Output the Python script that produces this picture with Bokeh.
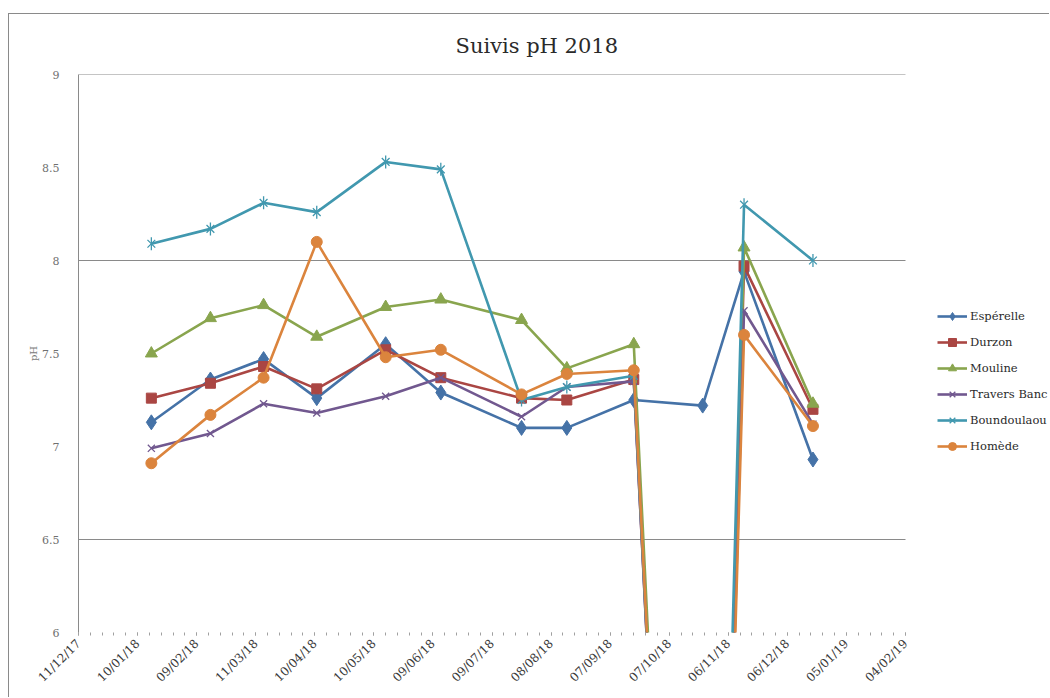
import numpy as np
import pandas as pd
from bokeh.plotting import figure
from bokeh.models import (Range1d, FixedTicker, DatetimeTickFormatter, CustomJSTickFormatter,
                          Legend, LegendItem, ColumnDataSource)
from bokeh.embed import file_html
from bokeh.resources import INLINE

# ---------------- data ----------------
dates = ["2018-01-17", "2018-02-16", "2018-03-15", "2018-04-11", "2018-05-16", "2018-06-13",
         "2018-07-24", "2018-08-16", "2018-09-19", "2018-10-24", "2018-11-14", "2018-12-19"]
esperelle   = [7.13, 7.36, 7.47, 7.26, 7.55, 7.29, 7.10, 7.10, 7.25, 7.22, 7.94, 6.93]
durzon      = [7.26, 7.34, 7.43, 7.31, 7.52, 7.37, 7.26, 7.25, 7.36, 0.0, 7.97, 7.20]
mouline     = [7.50, 7.69, 7.76, 7.59, 7.75, 7.79, 7.68, 7.42, 7.55, 0.0, 8.07, 7.23]
travers     = [6.99, 7.07, 7.23, 7.18, 7.27, 7.37, 7.16, 7.32, 7.35, 0.0, 7.73, 7.12]
boundoulaou = [8.09, 8.17, 8.31, 8.26, 8.53, 8.49, 7.25, 7.32, 7.38, 0.0, 8.30, 8.00]
homede      = [6.91, 7.17, 7.37, 8.10, 7.48, 7.52, 7.28, 7.39, 7.41, 0.0, 7.60, 7.11]

series_names = ["Espérelle", "Durzon", "Mouline", "Travers Banc", "Boundoulaou", "Homède"]
x_start = "2017-12-11"
x_end = "2019-02-04"
major_step_days = 30
minor_step_days = 6
y_ticks = [6, 6.5, 7, 7.5, 8, 8.5, 9]
y_grid = [6.5, 8, 9]

# ---------------- layout constants ----------------
FONT = "DejaVu Serif"
PLOT_W = 827          # pixel width of the dated plot area
FRAME_W = 972         # frame runs to the right edge so the legend sits inside it

xs = pd.to_datetime(dates)
t0 = pd.Timestamp(x_start)
t1 = pd.Timestamp(x_end)
span_days = (t1 - t0).days
t_frame_end = t0 + pd.Timedelta(days=span_days * FRAME_W / PLOT_W)

def ms(t):
    return t.value // 10**6

p = figure(width=69 + FRAME_W, height=684, output_backend="svg", toolbar_location=None,
           x_axis_type="datetime",
           x_range=Range1d(t0, t_frame_end), y_range=Range1d(6, 9),
           min_border_left=69, min_border_right=0, min_border_top=59, min_border_bottom=66)
p.styles = {"margin-top": "13px", "margin-left": "8px",
            "border-top": "1px solid #8a8a8a", "border-left": "1px solid #8a8a8a"}
p.outline_line_color = None
p.background_fill_color = "white"
p.border_fill_color = "white"

p.title.text = "Suivis pH 2018"
p.title.align = "left"
p.title.offset = 377
p.title.text_font = FONT
p.title.text_font_size = "21px"
p.title.text_font_style = "normal"
p.title.text_color = "#2a2a2a"
p.title.text_line_height = 0.8
p.title.standoff = 34

# x axis
major = [ms(t0 + pd.Timedelta(days=d)) for d in range(0, span_days + 1, major_step_days)]
minor = [ms(t0 + pd.Timedelta(days=d)) for d in range(0, span_days + 1, minor_step_days)]
p.xaxis.ticker = FixedTicker(ticks=major, minor_ticks=minor)
fmt = "%d/%m/%y"
p.xaxis.formatter = DatetimeTickFormatter(microseconds=fmt, milliseconds=fmt, seconds=fmt,
                                          minsec=fmt, minutes=fmt, hourmin=fmt, hours=fmt,
                                          days=fmt, months=fmt, years=fmt)
p.xaxis.major_label_orientation = np.pi / 4
p.xaxis.major_label_text_font = FONT
p.xaxis.major_label_text_font_size = "12px"
p.xaxis.major_label_text_color = "#3a3a3a"
p.xaxis.axis_line_color = None
p.xaxis.major_tick_line_color = "#a0a0a0"
p.xaxis.minor_tick_line_color = "#a0a0a0"
p.xaxis.major_tick_in = 0
p.xaxis.major_tick_out = 3
p.xaxis.minor_tick_in = 0
p.xaxis.minor_tick_out = 3
p.xaxis.major_label_standoff = 6

# y axis
p.yaxis.ticker = FixedTicker(ticks=y_ticks)
p.yaxis.formatter = CustomJSTickFormatter(code="return String(tick);")
p.yaxis.major_label_text_font = FONT
p.yaxis.major_label_text_font_size = "11px"
p.yaxis.major_label_text_color = "#707070"
p.yaxis.axis_line_color = "#8a8a8a"
p.yaxis.major_tick_line_color = None
p.yaxis.minor_tick_line_color = None
p.yaxis.major_label_standoff = 13
p.yaxis.axis_label = "pH"
p.yaxis.axis_label_text_font = FONT
p.yaxis.axis_label_text_font_size = "10px"
p.yaxis.axis_label_text_font_style = "normal"
p.yaxis.axis_label_text_color = "#7a7a7a"
p.yaxis.axis_label_standoff = 0

# horizontal gridlines limited to the dated plot area
p.xgrid.visible = False
p.ygrid.visible = False
p.segment(x0=[t0] * len(y_grid), x1=[t1] * len(y_grid), y0=y_grid, y1=y_grid,
          line_color="#8a8a8a", line_width=1, level="underlay")

# ---------------- series ----------------
colors = ["#4572A7", "#AA4643", "#89A54E", "#71588F", "#4198AF", "#DB843D"]
values = [esperelle, durzon, mouline, travers, boundoulaou, homede]
markers = [("diamond", 15), ("square", 10), ("triangle", 12), ("x", 10), ("star6", 11), ("circle", 11)]

items = []
for name, vals, col, (mk, sz) in zip(series_names, values, colors, markers):
    src = ColumnDataSource(dict(x=xs, y=vals))
    ln = p.line("x", "y", source=src, line_color=col, line_width=2.6)
    rs = [ln]
    if mk == "x":
        rs.append(p.scatter("x", "y", source=src, marker="x", size=sz, line_color=col, line_width=1.3))
    elif mk == "star6":
        rs.append(p.scatter("x", "y", source=src, marker="x", size=sz, line_color=col, line_width=1.3))
        rs.append(p.scatter("x", "y", source=src, marker="dash", angle=np.pi / 2, size=sz + 2,
                            line_color=col, line_width=1.3))
    else:
        rs.append(p.scatter("x", "y", source=src, marker=mk, size=sz, fill_color=col, line_color=col))
    items.append(LegendItem(label=name, renderers=rs))

legend = Legend(items=items, location=(859, 176), orientation="vertical",
                glyph_width=30, glyph_height=20, label_height=20, label_standoff=3,
                spacing=6, padding=0, margin=0,
                border_line_color=None, background_fill_alpha=0,
                label_text_font=FONT, label_text_font_size="11.5px", label_text_color="#2a2a2a")
p.add_layout(legend, "center")

open("out.html", "w").write(file_html(p, INLINE))
